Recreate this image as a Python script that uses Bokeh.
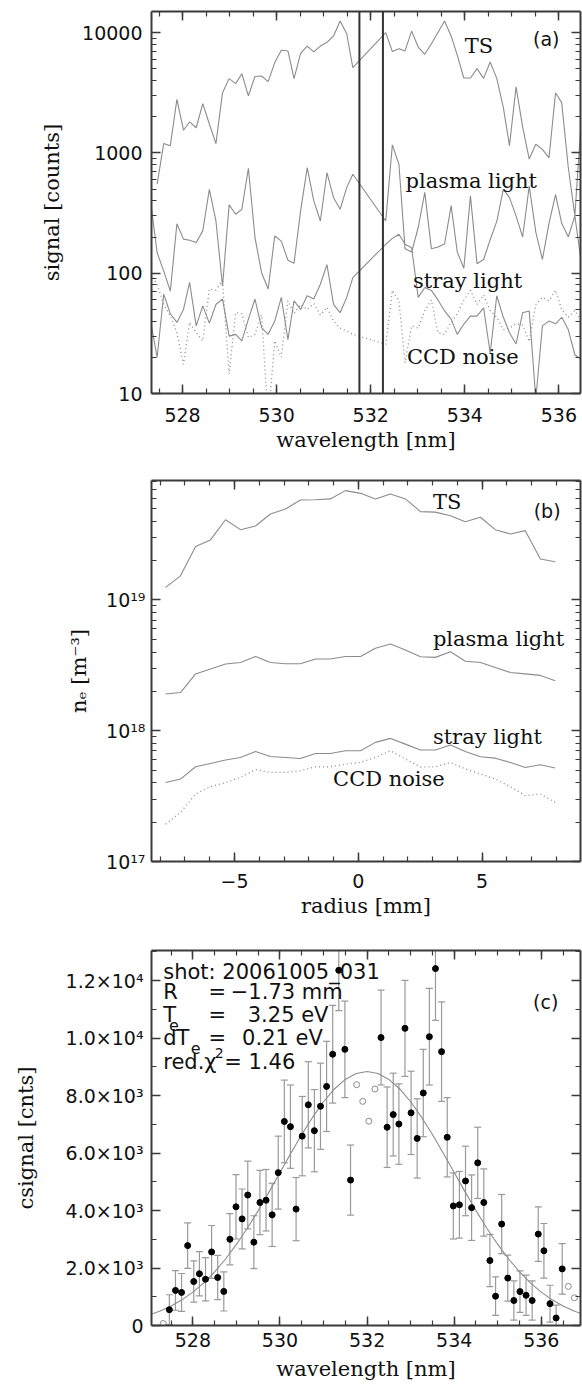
from bokeh.plotting import figure
from bokeh.models import (ColumnDataSource, FixedTicker, LinearAxis, LogAxis, Range1d,
                          Span, Label, Whisker, TeeHead, CustomJSTickFormatter)
from bokeh.layouts import column
from bokeh.embed import file_html
from bokeh.resources import INLINE

# ---------------- panel (a): raw spectra ----------------
wavelength_a = [527.32, 527.46, 527.60, 527.74, 527.88, 528.02, 528.15, 528.29, 528.43, 528.57,
                528.71, 528.85, 528.99, 529.13, 529.26, 529.40, 529.54, 529.68, 529.82, 529.96,
                530.10, 530.24, 530.37, 530.51, 530.65, 530.79, 530.93, 531.07, 531.21, 531.35,
                531.49, 531.62,
                532.32, 532.46, 532.60, 532.73, 532.87, 533.01, 533.15, 533.29, 533.43, 533.57,
                533.71, 533.84, 533.98, 534.12, 534.26, 534.40, 534.54, 534.68, 534.82, 534.95,
                535.09, 535.23, 535.37, 535.51, 535.65, 535.79, 535.93, 536.06, 536.20, 536.34,
                536.48, 536.62]
ts_a = [None, 550, 1200, 1150, 2790, 1545, 1810, 1620, 2570, 1740, 1195, 3170, 4150, 3770, 4560,
        2980, 4320, 4360, 3920, 5640, 7140, 7050, 4150, 6740, 7740, 6920, 7740, 8310, 9390, 12500,
        9800, 5120,
        10000, 6960, 7360, 7050, 10300, 7600, 6610, 8100, 10050, 12500, 9400, 6500, 4200, 4200,
        5030, 4170, 5700, 4170, 2380, 1150, 3540, 1650, 890, 1180, 1070, 910, 3170, 2620, 760,
        300, 1970, 1360]
plasma_a = [399, 148, 104, 71, 258, 192, 188, 180, 225, 499, 272, 78, 370, 309, 340, 746, 198,
            101, 74, 204, 185, 128, 121, 330, 755, 399, 272, 685, 425, 340, 515, 665,
            272, 1167, 805, 160, 150, 240, 470, 160, 165, 175, 365, 150, 110, 440, 120, 130, 190,
            270, 500, 425, 300, 200, 530, 220, 130, 260, 450, 260, 200, 300, 120, 400]
stray_a = [40, 20, 67, 46, 39, 50, 84, 36.5, 53.5, 38.5, 55, 61, 30, 31, 27.4, 41.5, 61, 35.3, 31,
           40, 63, 28, 59, 50, 65, 61, 81, 118, 55, 47, 63, 92,
           174, 195, 211, 174, 163, 63, 76, 72, 60, 48.6, 41.5, 31, 37.8, 44, 44, 51.6, 21.7, 65,
           43, 32, 25.8, 47, 48.6, 9, 36.5, 40, 38, 43, 34, 21, 19, 30]
ccd_a = [98, 81, 55, 44, 32, 17.5, 39, 32, 27.4, 74, 72.5, 86.6, 14.6, 47, 46, 29.2, 31, 45, 6,
         27.4, 20, 59, 46, 55, 50, 56, 45, 52, 40, 35, 33, 31,
         25.7, 72, 59, 18, 36.5, 35, 49, 60, 32, 31, 39, 46, 60, 72, 55, 66, 49, 43, 34, 35, 38,
         37, 27, 55, 63, 59, 72, 50, 43, 49, 40, 35]
notch_edges = [531.76, 532.26]

# ---------------- panel (b): density profiles ----------------
radius_b = [-7.78, -7.18, -6.57, -5.97, -5.36, -4.76, -4.15, -3.55, -2.94, -2.34, -1.73, -1.13,
            -0.52, 0.09, 0.69, 1.30, 1.90, 2.51, 3.11, 3.72, 4.32, 4.93, 5.53, 6.14, 6.74, 7.35,
            7.95]
ts_b = [1.25e19, 1.53e19, 2.56e19, 2.88e19, 4.11e19, 3.45e19, 3.68e19, 4.55e19, 4.97e19, 5.82e19,
        5.85e19, 5.93e19, 6.86e19, 6.54e19, 5.93e19, 6.47e19, 5.93e19, 4.74e19, 4.70e19, 4.41e19,
        3.97e19, 4.29e19, 3.45e19, 3.20e19, 3.39e19, 2.06e19, 1.96e19]
plasma_b = [1.91e18, 1.96e18, 2.72e18, 2.97e18, 3.24e18, 3.33e18, 3.69e18, 3.33e18, 3.25e18,
            3.25e18, 3.54e18, 3.54e18, 3.70e18, 3.70e18, 4.27e18, 4.60e18, 4.14e18, 3.68e18,
            3.64e18, 4.02e18, 3.40e18, 3.33e18, 3.05e18, 2.79e18, 2.72e18, 2.65e18, 2.41e18]
stray_b = [4.02e17, 4.27e17, 5.30e17, 5.62e17, 5.97e17, 6.25e17, 6.95e17, 6.36e17, 6.25e17,
           6.14e17, 6.70e17, 6.70e17, 7.03e17, 7.03e17, 8.15e17, 8.74e17, 7.90e17, 7.12e17,
           7.12e17, 7.78e17, 6.95e17, 6.33e17, 6.17e17, 5.72e17, 5.24e17, 5.50e17, 5.19e17]
ccd_b = [1.93e17, 2.37e17, 3.28e17, 3.73e17, 4.02e17, 4.40e17, 5.04e17, 4.80e17, 4.80e17,
         4.94e17, 5.30e17, 5.30e17, 5.56e17, 5.72e17, 6.25e17, 7.03e17, 6.07e17, 5.30e17,
         5.30e17, 5.72e17, 5.10e17, 4.67e17, 4.27e17, 3.73e17, 3.19e17, 3.28e17, 2.83e17]

# ---------------- panel (c): fitted spectrum ----------------
wl_c_fit = [527.46, 527.60, 527.74, 527.88, 528.02, 528.15, 528.29, 528.43, 528.57, 528.71,
            528.85, 528.99, 529.13, 529.26, 529.40, 529.54, 529.68, 529.82, 529.96, 530.10,
            530.24, 530.37, 530.51, 530.65, 530.79, 530.93, 531.07, 531.21, 531.35, 531.49,
            531.62,
            532.32, 532.46, 532.60, 532.73, 532.87, 533.01, 533.15, 533.29, 533.43, 533.57,
            533.71, 533.84, 533.98, 534.12, 534.26, 534.40, 534.54, 534.68, 534.82, 534.95,
            535.09, 535.23, 535.37, 535.51, 535.65, 535.79, 535.93, 536.06, 536.20, 536.34,
            536.48]
sig_c_fit = [550, 1220, 1150, 2780, 1530, 1800, 1610, 2560, 1670, 1185, 3000, 4130, 3710, 4540,
             2900, 4280, 4360, 3850, 5320, 7100, 6920, 4050, 6590, 7680, 6780, 7630, 8320, 9440,
             12360, 9610, 5060,
             10020, 6900, 7340, 7010, 10340, 7400, 6510, 8090, 10050, 12420, 9530, 6550, 4160,
             4200, 5030, 4100, 5660, 4280, 2260, 1020, 3530, 1650, 870, 1180, 1050, 870, 3180,
             2600, 760, 260, 1970]
err_c_fit = [520, 690, 660, 790, 720, 770, 750, 920, 770, 680, 890, 1120, 1040, 1180, 920, 1120,
             1070, 1100, 1270, 1440, 1450, 1100, 1380, 1500, 1430, 1500, 1570, 1700, 1400, 1680,
             1220,
             1650, 1400, 1440, 1400, 1670, 1450, 1380, 1520, 1680, 1800, 1730, 1380, 1150, 1160,
             1210, 1140, 1240, 1170, 910, 670, 1030, 800, 680, 720, 700, 680, 950, 950, 640, 450,
             880]
wl_c_excl = [527.32, 531.76, 531.90, 532.04, 532.18, 536.62, 536.76]
sig_c_excl = [70, 8380, 7800, 7110, 8230, 1360, 965]
fit_wl = [527.00, 527.25, 527.50, 527.75, 528.00, 528.25, 528.50, 528.75, 529.00, 529.25, 529.50,
          529.75, 530.00, 530.25, 530.50, 530.75, 531.00, 531.25, 531.50, 531.75, 532.00, 532.25,
          532.50, 532.75, 533.00, 533.25, 533.50, 533.75, 534.00, 534.25, 534.50, 534.75, 535.00,
          535.25, 535.50, 535.75, 536.00, 536.25, 536.50, 536.75, 537.00]
fit_val = [370, 505, 676, 893, 1161, 1484, 1868, 2314, 2821, 3386, 3999, 4650, 5321, 5993, 6644,
           7250, 7786, 8231, 8564, 8770, 8840, 8770, 8564, 8231, 7786, 7250, 6644, 5993, 5321,
           4650, 3999, 3386, 2821, 2314, 1868, 1484, 1161, 893, 676, 505, 370]

# ---------------- styling ----------------
SERIF = "DejaVu Serif"
SANS = "DejaVu Sans"
LINE = "#8c8c8c"
AX = "#3a3a3a"
TXT = "#111111"


def style_axis(ax, tick_standoff, label_standoff):
    ax.axis_line_color = AX
    ax.axis_line_width = 2
    ax.major_tick_line_color = AX
    ax.minor_tick_line_color = AX
    ax.major_tick_line_width = 1.5
    ax.minor_tick_line_width = 1.2
    ax.major_tick_in = 9
    ax.major_tick_out = 0
    ax.minor_tick_in = 5
    ax.minor_tick_out = 0
    ax.major_label_text_font = SANS
    ax.major_label_text_font_size = "19px"
    ax.major_label_text_color = TXT
    ax.major_label_standoff = tick_standoff
    ax.axis_label_text_font = SERIF
    ax.axis_label_text_font_size = "21px"
    ax.axis_label_text_font_style = "normal"
    ax.axis_label_text_color = TXT
    ax.axis_label_standoff = label_standoff


def make_fig(xr, yr, ylog, left, top, height, bottom, xticker, yticker,
             xlabel, ylabel, xstand, xlstand, ystand, ylstand):
    p = figure(width=582, height=height, x_range=Range1d(*xr), y_range=Range1d(*yr),
               y_axis_type="log" if ylog else "linear",
               output_backend="svg", toolbar_location=None,
               min_border_left=left, min_border_right=2, min_border_top=top,
               min_border_bottom=bottom)
    p.xgrid.visible = False
    p.ygrid.visible = False
    p.outline_line_color = None
    p.background_fill_color = "white"
    p.border_fill_color = "white"
    xa, ya = p.below[0], p.left[0]
    xa.ticker = xticker
    ya.ticker = yticker
    xa.axis_label = xlabel
    ya.axis_label = ylabel
    style_axis(xa, xstand, xlstand)
    style_axis(ya, ystand, ylstand)
    top_ax = LinearAxis(ticker=xticker, formatter=CustomJSTickFormatter(code="return ''"))
    right_ax = (LogAxis if ylog else LinearAxis)(
        ticker=yticker, formatter=CustomJSTickFormatter(code="return ''"))
    for ax in (top_ax, right_ax):
        style_axis(ax, 0, 0)
    p.add_layout(top_ax, "above")
    p.add_layout(right_ax, "right")
    return p, xa, ya


def label(p, x, y, text, font=SERIF, size="21px", align="left", baseline="middle"):
    p.add_layout(Label(x=x, y=y, text=text, text_font=font, text_font_size=size,
                       text_color=TXT, text_align=align, text_baseline=baseline))


def log_minor(decades):
    return [m * 10 ** d for d in decades for m in range(2, 10)]


# ---------------- panel (a) ----------------
xt_a = FixedTicker(ticks=[528, 530, 532, 534, 536],
                   minor_ticks=[527.5 + 0.5 * i for i in range(19)])
yt_a = FixedTicker(ticks=[10, 100, 1000, 10000], minor_ticks=log_minor([1, 2, 3, 4]))
pa, xa_a, ya_a = make_fig((527.34, 536.46), (10, 15000), True, 145, 11, 470, 77, xt_a, yt_a,
                          "wavelength [nm]", "signal [counts]", 14, 3, 9, 15)
ya_a.major_label_overrides = {10: "10", 100: "100", 1000: "1000", 10000: "10000"}

ts_pts = [(w, v) for w, v in zip(wavelength_a, ts_a) if v is not None]
pa.line([w for w, _ in ts_pts], [v for _, v in ts_pts], line_color=LINE, line_width=1.1)
pa.line(wavelength_a, plasma_a, line_color=LINE, line_width=1.1)
pa.line(wavelength_a, stray_a, line_color=LINE, line_width=1.1)
pa.line(wavelength_a, ccd_a, line_color=LINE, line_width=1.3, line_dash="1 3")
for loc in notch_edges:
    pa.add_layout(Span(location=loc, dimension="height", line_color="#333333", line_width=2))
label(pa, 534.0, 7750, "TS")
label(pa, 535.45, 8870, "(a)", font=SANS, size="19px")
label(pa, 532.74, 585, "plasma light")
label(pa, 532.9, 86, "stray light")
label(pa, 532.77, 20.1, "CCD noise")

# ---------------- panel (b) ----------------
xt_b = FixedTicker(ticks=[-5, 0, 5], minor_ticks=list(range(-8, 9)))
yt_b = FixedTicker(ticks=[1e17, 1e18, 1e19], minor_ticks=log_minor([17, 18, 19]))
pb, xa_b, ya_b = make_fig((-8.35, 8.97), (1e17, 8.2e19), True, 146, 10, 470, 79, xt_b, yt_b,
                          "radius [mm]", "nₑ [m⁻³]", 12, 3, 6, 12)
xa_b.major_label_overrides = {-5: "−5", 0: "0", 5: "5"}
ya_b.formatter = CustomJSTickFormatter(code="""
const s = {"0":"\u2070","1":"\u00b9","2":"\u00b2","3":"\u00b3","4":"\u2074","5":"\u2075",
           "6":"\u2076","7":"\u2077","8":"\u2078","9":"\u2079"};
const e = Math.round(Math.log10(tick));
return "10" + String(e).split("").map(c => s[c]).join("");
""")
pb.line(radius_b, ts_b, line_color=LINE, line_width=1.1)
pb.line(radius_b, plasma_b, line_color=LINE, line_width=1.1)
pb.line(radius_b, stray_b, line_color=LINE, line_width=1.1)
pb.line(radius_b, ccd_b, line_color=LINE, line_width=1.3, line_dash="1 3")
label(pb, 3.01, 5.58e19, "TS")
label(pb, 7.08, 4.82e19, "(b)", font=SANS, size="19px")
label(pb, 3.01, 5.03e18, "plasma light")
label(pb, 3.01, 8.9e17, "stray light")
label(pb, -1.02, 4.27e17, "CCD noise")

# ---------------- panel (c) ----------------
xt_c = FixedTicker(ticks=[528, 530, 532, 534, 536],
                   minor_ticks=[527.5 + 0.5 * i for i in range(19)])
yt_c = FixedTicker(ticks=[0, 2000, 4000, 6000, 8000, 10000, 12000],
                   minor_ticks=[1000, 3000, 5000, 7000, 9000, 11000, 13000])
pc, xa_c, ya_c = make_fig((527.05, 536.90), (0, 13050), False, 151, 10, 446, 61, xt_c, yt_c,
                          "wavelength [nm]", "csignal [cnts]", 7, 7, 8, 25)
ya_c.major_label_overrides = {0: "0", 2000: "2.0×10³", 4000: "4.0×10³",
                              6000: "6.0×10³", 8000: "8.0×10³",
                              10000: "1.0×10⁴", 12000: "1.2×10⁴"}
src_c = ColumnDataSource(dict(
    x=wl_c_fit, y=sig_c_fit,
    upper=[v + e for v, e in zip(sig_c_fit, err_c_fit)],
    lower=[v - e for v, e in zip(sig_c_fit, err_c_fit)]))
pc.add_layout(Whisker(source=src_c, base="x", upper="upper", lower="lower", dimension="height",
                      line_color="#9a9a9a", line_width=1.2,
                      upper_head=TeeHead(size=7, line_color="#9a9a9a", line_width=1.2),
                      lower_head=TeeHead(size=7, line_color="#9a9a9a", line_width=1.2)))
pc.line(fit_wl, fit_val, line_color=LINE, line_width=1.1)
pc.scatter("x", "y", source=src_c, size=6, fill_color="black", line_color="black")
pc.scatter(wl_c_excl, sig_c_excl, size=6, fill_color=None, line_color="#8c8c8c", line_width=1)

label(pc, 535.81, 11260, "(c)", font=SANS, size="19px")
label(pc, 527.32, 12300, "shot: 20061005_031", font=SANS)
label(pc, 527.32, 11610, "R", font=SANS)
label(pc, 528.56, 11610, "=", font=SANS, align="center")
label(pc, 528.87, 11610, "−1.73 mm", font=SANS)
label(pc, 527.32, 10800, "T", font=SANS)
label(pc, 527.45, 10450, "e", font=SANS, size="16px")
label(pc, 528.56, 10800, "=", font=SANS, align="center")
label(pc, 529.26, 10800, "3.25 eV", font=SANS)
label(pc, 527.32, 9990, "dT", font=SANS)
label(pc, 527.95, 9650, "e", font=SANS, size="16px")
label(pc, 528.56, 9990, "=", font=SANS, align="center")
label(pc, 529.13, 9990, "0.21 eV", font=SANS)
label(pc, 527.32, 9180, "red.χ", font=SANS)
label(pc, 528.50, 9470, "2", font=SANS, size="14px")
label(pc, 528.72, 9180, "= 1.46", font=SANS)

layout = column(pa, pb, pc, spacing=0)
open("out.html", "w").write(file_html(layout, INLINE))
